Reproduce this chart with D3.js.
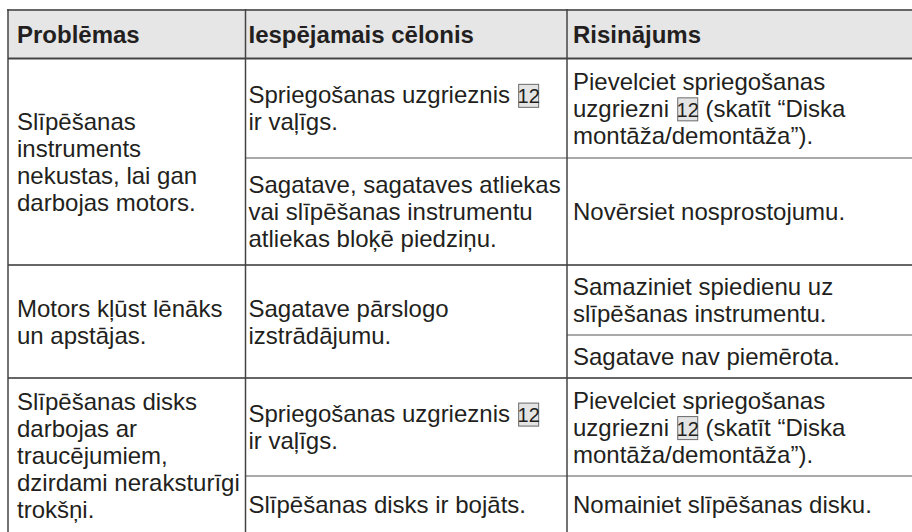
<!DOCTYPE html>
<html>
<head>
<meta charset="utf-8">
<script src="https://cdn.jsdelivr.net/npm/d3@7"></script>
<style>
  html, body { margin: 0; padding: 0; background: #fff; }
  svg { display: block; }
  text { white-space: pre; }
</style>
</head>
<body>
<svg id="chart" width="912" height="532"></svg>
<script>
// ---------------- DATA ----------------
const headers = ["Problēmas", "Iespējamais cēlonis", "Risinājums"];

// Problems (column 1), pre-wrapped lines
const problemLines = [
  ["Slīpēšanas", "instruments", "nekustas, lai gan", "darbojas motors."],
  ["Motors kļūst lēnāks", "un apstājas."],
  ["Slīpēšanas disks", "darbojas ar", "traucējumiem,", "dzirdami neraksturīgi", "trokšņi."]
];

// Causes (column 2); [12] marks the boxed reference number
const causeLines = [
  ["Spriegošanas uzgrieznis [12]", "ir vaļīgs."],
  ["Sagatave, sagataves atliekas", "vai slīpēšanas instrumentu", "atliekas bloķē piedziņu."],
  ["Sagatave pārslogo", "izstrādājumu."],
  ["Spriegošanas uzgrieznis [12]", "ir vaļīgs."],
  ["Slīpēšanas disks ir bojāts."]
];
const causeProblem = [0, 0, 1, 2, 2];

// Solutions (column 3)
const solutionLines = [
  ["Pievelciet spriegošanas", "uzgriezni [12] (skatīt “Diska", "montāža/demontāža”)."],
  ["Novērsiet nosprostojumu."],
  ["Samaziniet spiedienu uz", "slīpēšanas instrumentu."],
  ["Sagatave nav piemērota."],
  ["Pievelciet spriegošanas", "uzgriezni [12] (skatīt “Diska", "montāža/demontāža”)."],
  ["Nomainiet slīpēšanas disku."]
];
const solutionCause = [0, 1, 2, 2, 3, 4];

// ---------------- LAYOUT ----------------
const colEdges = [8, 245.5, 567, 916];
const textPad = [9, 3, 6];
const headerTop = 10, headerBottom = 58.5;
const rowEdges = [58.5, 158, 265, 335, 378, 476, 533]; // one band per solution row
const fontSize = 24, lineH = 27, capH = 0.716 * fontSize;
const fontFamily = "'Liberation Sans', Arial, Helvetica, sans-serif";
const textColor = "#231f20";

const svg = d3.select("#chart");

const rowIdx = d3.range(solutionLines.length);
const yStart = d3.scaleOrdinal().domain(rowIdx).range(rowEdges.slice(0, -1));
const yEnd = d3.scaleOrdinal().domain(rowIdx).range(rowEdges.slice(1));
const xCol = d3.scaleOrdinal().domain([0, 1, 2]).range(colEdges.slice(0, 3));

// row spans for merged cells
const causeSpan = causeLines.map((_, ci) => {
  const rows = rowIdx.filter(r => solutionCause[r] === ci);
  return [yStart(d3.min(rows)), yEnd(d3.max(rows))];
});
const problemSpan = problemLines.map((_, pi) => {
  const cs = d3.range(causeLines.length).filter(c => causeProblem[c] === pi);
  return [causeSpan[d3.min(cs)][0], causeSpan[d3.max(cs)][1]];
});

// header background
svg.append("rect")
  .attr("x", colEdges[0]).attr("y", headerTop)
  .attr("width", colEdges[3] - colEdges[0]).attr("height", headerBottom - headerTop)
  .attr("fill", "#e6e6e7");

// cell text renderer (supports [12] boxed refs)
function drawCell(g, lines, col, y0, y1, bold) {
  const n = lines.length;
  const cy = (y0 + y1) / 2;
  const firstBase = cy - (n - 1) / 2 * lineH + capH / 2;
  lines.forEach((line, i) => {
    const base = firstBase + i * lineH;
    let x = xCol(col) + textPad[col];
    const parts = line.split("[12]");
    parts.forEach((part, pi) => {
      if (part.length) {
        const t = g.append("text")
          .attr("x", x).attr("y", base)
          .attr("font-family", fontFamily)
          .attr("font-size", fontSize)
          .attr("font-weight", bold ? "bold" : "normal")
          .attr("fill", textColor)
          .text(part);
        x += t.node().getComputedTextLength();
      }
      if (pi < parts.length - 1) {
        const bx = x + 2, bw = 20, by = base - 19, bh = 23;
        g.append("rect").attr("x", bx).attr("y", by).attr("width", bw).attr("height", bh)
          .attr("fill", "#e4e4e4").attr("stroke", "#6a6a6a").attr("stroke-width", 1);
        g.append("text")
          .attr("x", bx + bw / 2).attr("y", base)
          .attr("text-anchor", "middle")
          .attr("font-family", "'Liberation Sans Narrow', 'Liberation Sans', Arial, sans-serif")
          .attr("font-size", 20)
          .attr("fill", textColor)
          .text("12");
        x = bx + bw + 1;
      }
    });
  });
}

const gText = svg.append("g");
headers.forEach((h, i) => drawCell(gText, [h], i, headerTop, headerBottom, true));
problemLines.forEach((lines, i) => drawCell(gText, lines, 0, problemSpan[i][0], problemSpan[i][1], false));
causeLines.forEach((lines, i) => drawCell(gText, lines, 1, causeSpan[i][0], causeSpan[i][1], false));
solutionLines.forEach((lines, i) => drawCell(gText, lines, 2, yStart(i), yEnd(i), false));

// grid lines
const gLines = svg.append("g").attr("fill", "none");
function hline(x0, x1, y, w, c) {
  gLines.append("line").attr("x1", x0).attr("x2", x1).attr("y1", y).attr("y2", y)
    .attr("stroke", c).attr("stroke-width", w);
}
function vline(x, y0, y1, w, c) {
  gLines.append("line").attr("x1", x).attr("x2", x).attr("y1", y0).attr("y2", y1)
    .attr("stroke", c).attr("stroke-width", w);
}
const bottom = rowEdges[rowEdges.length - 1];
hline(colEdges[0] - 0.75, colEdges[3], headerTop, 2, "#666");
hline(colEdges[0], colEdges[3], headerBottom, 2, "#444");
problemSpan.slice(0, -1).forEach(s => hline(colEdges[0], colEdges[3], s[1], 2, "#666"));
causeSpan.forEach((s, i) => {
  if (i < causeSpan.length - 1 && causeProblem[i] === causeProblem[i + 1])
    hline(colEdges[1], colEdges[3], s[1], 1.2, "#555");
});
rowIdx.slice(0, -1).forEach(r => {
  if (solutionCause[r] === solutionCause[r + 1]) hline(colEdges[2], colEdges[3], yEnd(r), 1.2, "#555");
});
colEdges.forEach(x => vline(x, headerTop - 1, bottom, 1.5, "#444"));
</script>
</body>
</html>
